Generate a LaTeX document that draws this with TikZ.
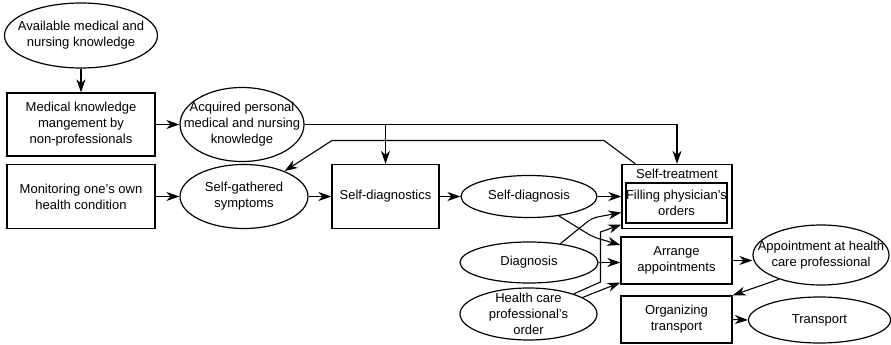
\documentclass[tikz,border=0pt]{standalone}
\usepackage{fontspec}
\setmainfont{Liberation Sans}
\usetikzlibrary{arrows.meta,shapes.geometric,calc}
\begin{document}
\begin{tikzpicture}[x=1pt,y=-1pt,
  font=\fontsize{13}{16}\selectfont,
  txt/.style={align=center,inner sep=0pt,font=\fontsize{13}{16}\selectfont},
  oval/.style 2 args={ellipse,draw,line width=1.2pt,minimum width=#1,minimum height=#2,inner sep=0pt},
  box/.style 2 args={rectangle,draw,line width=1.3pt,minimum width=#1,minimum height=#2,inner sep=0pt,align=center},
  conn/.style={-{Stealth[length=13pt,width=9pt,inset=4pt]},line width=1.1pt}]
\useasboundingbox (0,0) rectangle (891,345);

% knowledge chain
\node[oval={153pt}{65pt},label={[txt]center:{Available medical and\\nursing knowledge}}] (avail) at (81,35.5) {};
\node[box={148pt}{63pt}] (mgmt) at (81,124.5) {Medical knowledge\\mangement by\\non-professionals};
\node[oval={124pt}{74pt},label={[txt]center:{Acquired personal\\medical and nursing\\knowledge}}] (acq) at (242,124.5) {};

% self-care chain
\node[box={148pt}{64pt}] (mon) at (81,196.5) {Monitoring one’s own\\health condition};
\node[oval={128pt}{64pt},label={[txt]center:{Self-gathered\\symptoms}}] (symp) at (244,196.5) {};
\node[box={107pt}{64pt}] (sdx) at (385.5,196.5) {Self-diagnostics};
\node[oval={136pt}{42pt},label={[txt]center:{Self-diagnosis}}] (sdiag) at (529,196.5) {};

% self-treatment with nested box
\node[box={110pt}{64pt}] (st) at (677,196.5) {};
\node[txt] (stlabel) at (677,174) {Self-treatment};
\node[box={101pt}{40pt}] (ordr) at (676.5,203) {Filling physician’s\\orders};

% professional side
\node[oval={138pt}{41pt},label={[txt]center:{Diagnosis}}] (diag) at (529,262.5) {};
\node[oval={137pt}{52pt},label={[txt]center:{Health care\\professional’s\\order}}] (hcp) at (528.5,314) {};
\node[box={111pt}{47pt}] (arr) at (676.5,260.5) {Arrange\\appointments};
\node[oval={136pt}{60pt},label={[txt]center:{Appointment at health\\care professional}}] (appt) at (821,255) {};
\node[box={111pt}{47pt}] (orgt) at (676.5,319.5) {Organizing\\transport};
\node[oval={142pt}{46pt},label={[txt]center:{Transport}}] (trans) at (819.5,320) {};

% bend points
\coordinate (fb1) at (604,140.5);
\coordinate (fb2) at (332,140.5);
\coordinate (sb) at (593,237);
\coordinate (db) at (592,218);
\coordinate (hb1) at (600.5,282);
\coordinate (hb2) at (600.5,232);

% connectors
\draw[conn] (avail.south) -- (mgmt.north);
\draw[conn] (mgmt.east) -- (acq.west);
\draw[conn] (acq.east) -| (st.north);
\draw[conn] (acq.east -| sdx.north) -- (sdx.north);
\draw[conn] ([xshift=14pt]st.north west) -- (fb1) -- (fb2) -- (symp.32);
\draw[conn] (mon.east) -- (symp.west);
\draw[conn] (symp.east) -- (sdx.west);
\draw[conn] (sdx.east) -- (sdiag.west);
\draw[conn] (sdiag.east) -- (st.west);
\draw[conn,rounded corners=6pt] (sdiag.-33) -- (sb) -- ([yshift=15.5pt]arr.west);
\draw[conn,rounded corners=6pt] (diag.31.5) -- (db) -- ([yshift=-16pt]st.west);
\draw[conn] (diag.east) -- (diag.east -| arr.west);
\draw[conn] (hcp.24) -- (hb1) -- (hb2) -- ([yshift=-28pt]st.west);
\draw[conn] (hcp.17) -- ([yshift=-22pt]arr.west);
\draw[conn] (arr.east) -- (arr.east -| appt.west);
\draw[conn] (appt.-150) -- (orgt.north east);
\draw[conn] (orgt.east) -- (trans.west);
\end{tikzpicture}
\end{document}
